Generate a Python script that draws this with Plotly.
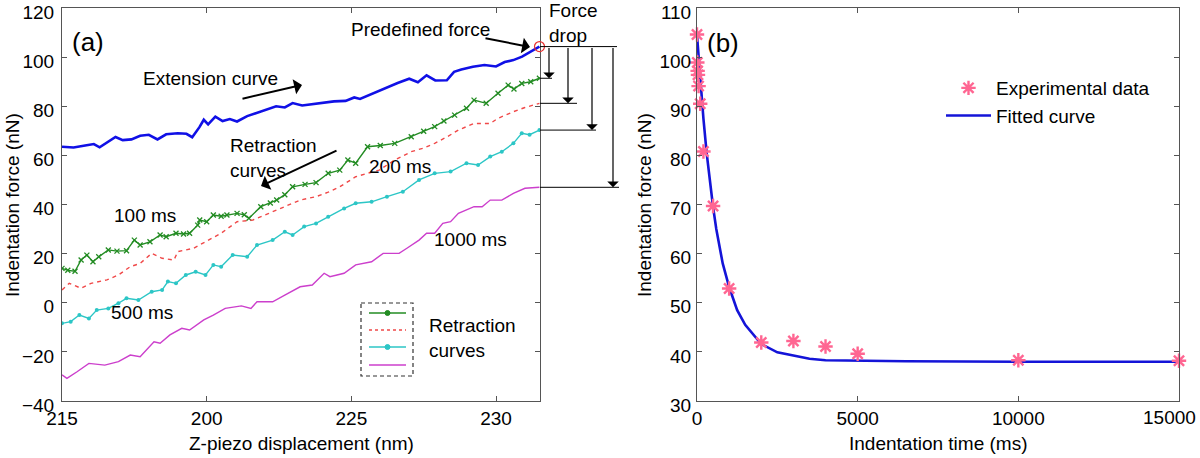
import plotly.graph_objects as go

# ---------------- data: panel (a) ----------------
ext_x = [215.0, 215.4, 215.8, 216.1, 216.3, 216.6, 216.85, 217.1, 217.4, 217.7, 218.0, 218.3, 218.6, 219.0,
         219.3, 219.5, 219.75, 219.9, 220.05, 220.3, 220.55, 220.8, 221.05, 221.4, 221.8, 222.2, 222.4, 222.7,
         222.97, 223.3, 223.6, 224.0, 224.4, 224.8, 225.1, 225.3, 225.6, 225.97, 226.3, 226.6, 227.0, 227.3,
         227.6, 227.9, 228.3, 228.55, 228.8, 229.2, 229.6, 230.0, 230.3, 230.6, 230.9, 231.2, 231.5]
ext_y = [63.5, 63.2, 64.0, 64.6, 63.3, 65.5, 67.5, 66.2, 66.5, 68.0, 68.4, 66.5, 68.6, 69.0,
         68.8, 67.4, 71.5, 74.5, 72.6, 75.8, 74.0, 74.8, 73.8, 76.0, 77.5, 79.0, 80.0, 79.5,
         81.3, 80.3, 80.8, 81.6, 82.0, 82.2, 83.6, 83.0, 84.5, 86.6, 88.0, 89.5, 91.2, 89.8,
         92.6, 90.5, 90.6, 94.0, 95.0, 96.1, 96.8, 96.2, 98.0, 98.8, 100.2, 102.2, 104.3]

r100_x = [215.0, 215.2, 215.45, 215.66, 215.86, 216.07, 216.27, 216.6, 216.9, 217.23, 217.5, 217.7, 218.04,
          218.39, 218.6, 218.94, 219.2, 219.41, 219.69, 219.76, 220.0, 220.23, 220.5, 220.7, 221.05, 221.3,
          221.46, 221.87, 222.2, 222.42, 222.7, 222.97, 223.4, 223.78, 224.2, 224.6, 224.88, 225.15, 225.56,
          226.0, 226.5, 227.07, 227.5, 227.88, 228.2, 228.57, 228.98, 229.24, 229.66, 230.07, 230.42, 230.62,
          230.89, 231.2, 231.5]
r100_y = [14.0, 13.2, 12.8, 17.4, 19.4, 16.7, 18.7, 21.5, 21.0, 21.2, 25.5, 23.5, 24.8,
          27.6, 26.9, 28.3, 28.0, 28.3, 31.6, 33.7, 33.0, 35.7, 35.2, 35.7, 36.4, 35.8,
          34.4, 39.1, 40.6, 41.8, 44.0, 47.2, 48.2, 48.9, 52.7, 54.0, 58.1, 56.8, 63.5,
          64.0, 64.9, 67.6, 69.8, 71.7, 74.0, 76.4, 79.2, 82.5, 81.2, 85.3, 88.6, 87.0,
          89.3, 90.0, 91.4]

r200_x = [215.0, 215.25, 215.66, 216.0, 216.55, 216.95, 217.36, 217.7, 218.1, 218.46, 218.87, 219.0, 219.55,
          219.96, 220.5, 221.05, 221.6, 222.15, 222.7, 223.23, 223.78, 224.2, 224.6, 225.15, 225.5, 225.96,
          226.5, 227.07, 227.5, 227.88, 228.3, 228.7, 229.24, 229.8, 230.07, 230.6, 231.0, 231.5]
r200_y = [5.2, 7.9, 5.9, 7.9, 9.3, 11.3, 14.7, 16.0, 20.1, 18.1, 17.4, 20.8, 22.2,
          24.8, 28.3, 33.0, 33.7, 36.4, 39.1, 41.8, 43.2, 45.0, 47.2, 51.3, 52.5, 54.0,
          58.1, 61.5, 63.0, 64.9, 67.5, 70.3, 73.0, 73.0, 75.1, 77.8, 79.5, 81.2]

r500_x = [215.0, 215.3, 215.6, 215.93, 216.2, 216.6, 216.95, 217.23, 217.64, 218.1, 218.46, 218.66, 218.94,
          219.28, 219.62, 219.96, 220.23, 220.5, 220.9, 221.4, 221.74, 222.28, 222.7, 222.97, 223.37, 223.78,
          224.2, 224.75, 225.15, 225.7, 226.23, 226.78, 227.34, 227.88, 228.43, 228.98, 229.38, 229.8, 230.2,
          230.6, 230.89, 231.16, 231.5]
r500_y = [-8.4, -7.7, -5.0, -6.4, -3.0, -2.3, -0.2, 1.8, 1.1, 4.5, 5.2, 8.6, 7.9,
          11.3, 12.6, 11.3, 15.4, 14.7, 19.4, 18.7, 23.5, 25.5, 28.9, 27.6, 31.0, 32.3,
          35.0, 38.4, 40.5, 41.1, 43.2, 45.2, 50.0, 52.7, 53.4, 56.8, 56.1, 59.5, 61.5,
          64.9, 69.0, 68.4, 70.3]

r1000_x = [215.0, 215.17, 215.52, 215.93, 216.48, 216.95, 217.36, 217.7, 218.18, 218.39, 218.73, 219.14,
           219.41, 219.9, 220.23, 220.64, 221.2, 221.53, 221.74, 222.28, 222.7, 223.23, 223.65, 224.06, 224.26,
           224.75, 225.15, 225.7, 226.1, 226.65, 226.92, 227.34, 227.6, 227.88, 228.16, 228.43, 228.7, 228.98,
           229.24, 229.52, 229.8, 230.2, 230.6, 231.0, 231.5]
r1000_y = [-29.4, -30.8, -28.1, -24.7, -25.4, -24.0, -21.3, -22.0, -15.9, -16.5, -13.1, -10.4,
           -11.1, -7.0, -5.0, -2.3, -1.3, -2.3, 0.4, 0.4, 3.1, 6.5, 7.2, 12.0, 10.6,
           12.0, 15.4, 16.7, 20.1, 20.1, 22.2, 25.5, 28.3, 28.3, 32.3, 33.0, 36.4, 37.8,
           39.1, 39.1, 41.8, 41.8, 44.5, 46.6, 47.0]

a_xticks = [215, 220, 225, 230]
a_xticktext = ["215", "200", "225", "230"]
a_yticks = [-40, -20, 0, 20, 40, 60, 80, 100, 120]

# ---------------- data: panel (b) ----------------
exp_t = [0, 10, 20, 30, 50, 100, 200, 500, 1000, 2000, 3000, 4000, 5000, 10000, 15000]
exp_f = [104.6, 98.9, 97.2, 96.4, 94.1, 90.5, 80.8, 69.7, 52.9, 41.9, 42.2, 41.1, 39.6, 38.3, 38.2]

fit_t = [0, 100, 200, 300, 400, 500, 600, 800, 1000, 1250, 1500, 2000, 2500, 3000, 3500, 4000, 6500,
         10000, 15000]
fit_f = [104.5, 95.5, 87.5, 80.5, 74.5, 69.5, 65.0, 58.0, 53.2, 48.5, 45.5, 41.6, 39.9, 39.2, 38.6, 38.3, 38.1,
         38.0, 38.0]

b_xticks = [0, 5000, 10000, 15000]
b_xticktext = ["0", "5000", "10000", "15000"]
b_yticks = [30, 40, 50, 60, 70, 80, 90, 100, 110]

FONT = "Liberation Sans, Arial, sans-serif"
AXC = "#555555"

# layout geometry helpers (pixel -> paper)
W, H = 1200, 458
TOP, BOT = 8, 401


def px(x):
    return x / W


def py(y):
    return (BOT - y) / (BOT - TOP)


fig = go.Figure()

# panel (a) curves
fig.add_trace(go.Scatter(x=ext_x, y=ext_y, mode="lines", line=dict(color="#1010e6", width=2.6),
                         showlegend=False, xaxis="x", yaxis="y"))
fig.add_trace(go.Scatter(x=r100_x, y=r100_y, mode="lines+markers", line=dict(color="#238c23", width=1.4),
                         marker=dict(symbol="x-thin-open", size=5, line=dict(color="#238c23", width=1.3)),
                         showlegend=False, xaxis="x", yaxis="y"))
fig.add_trace(go.Scatter(x=r200_x, y=r200_y, mode="lines", line=dict(color="#f04848", width=1.4, dash="4px,4px"),
                         showlegend=False, xaxis="x", yaxis="y"))
fig.add_trace(go.Scatter(x=r500_x, y=r500_y, mode="lines+markers", line=dict(color="#2cc6c6", width=1.4),
                         marker=dict(symbol="circle", size=4, color="#2cc6c6"),
                         showlegend=False, xaxis="x", yaxis="y"))
fig.add_trace(go.Scatter(x=r1000_x, y=r1000_y, mode="lines", line=dict(color="#cc3fcc", width=1.4),
                         showlegend=False, xaxis="x", yaxis="y"))

# panel (b)
fig.add_trace(go.Scatter(x=fit_t, y=fit_f, mode="lines", line=dict(color="#1414d8", width=2.6),
                         name="Fitted curve", xaxis="x2", yaxis="y2"))
fig.add_trace(go.Scatter(x=exp_t, y=exp_f, mode="markers", cliponaxis=False,
                         marker=dict(symbol="asterisk-open", size=12, line=dict(color="#ff0000", width=2.4)),
                         name="Experimental data", xaxis="x2", yaxis="y2"))

axis_common = dict(showline=True, linecolor=AXC, linewidth=1, mirror="ticks", ticks="inside", ticklen=5,
                   tickcolor=AXC, showgrid=False, zeroline=False, automargin=False,
                   ticklabeloverflow="allow",
                   tickfont=dict(family=FONT, size=19, color="black"))

fig.update_layout(
    width=W, height=H,
    margin=dict(l=0, r=0, t=TOP, b=H - BOT, autoexpand=False),
    paper_bgcolor="white", plot_bgcolor="white",
    font=dict(family=FONT, color="black"),
    xaxis=dict(domain=[px(62), px(540)], range=[215, 231.52], tickvals=a_xticks, ticktext=a_xticktext,
               anchor="y", **axis_common),
    yaxis=dict(domain=[0, 1], range=[-40.01, 120.01], tickvals=a_yticks, anchor="x", ticklabelstandoff=3,
               ticklabelshift=4, **axis_common),
    # last x2 tick label is drawn as an annotation so it can sit inside the page like the original
    xaxis2=dict(domain=[px(697), px(1179)], range=[0, 15000.01], tickvals=b_xticks,
                ticktext=b_xticktext[:-1] + [""], anchor="y2", **axis_common),
    yaxis2=dict(domain=[0, 1], range=[29.995, 110.005], tickvals=b_yticks, anchor="x2", ticklabelstandoff=1,
                ticklabelshift=4, **axis_common),
    legend=dict(x=px(941), y=py(69), xanchor="left", yanchor="top", bgcolor="rgba(0,0,0,0)",
                font=dict(family=FONT, size=19, color="black"), traceorder="reversed", itemwidth=45),
)

ann = []
shapes = []


def text(x, y, t, size=19, xanchor="center", align="center"):
    ann.append(dict(x=px(x), y=py(y), xref="paper", yref="paper", text=t, showarrow=False,
                    xanchor=xanchor, yanchor="middle", align=align,
                    font=dict(family=FONT, size=size, color="black")))


def arrow(x0, y0, x1, y1):
    # tail at (x0, y0), head at (x1, y1), pixel coordinates of the page
    ann.append(dict(x=px(x1), y=py(y1), xref="paper", yref="paper",
                    ax=x0 - x1, ay=y0 - y1, axref="pixel", ayref="pixel",
                    text="", showarrow=True, arrowhead=1, arrowsize=1.3,
                    arrowwidth=2, arrowcolor="black", standoff=0))


# last tick label of panel (b)
text(1198, 418, b_xticktext[-1], 19, xanchor="right")

# axis titles
text(301, 444, "Z-piezo displacement (nm)", 19)
text(938, 444, "Indentation time (ms)", 19)
ann.append(dict(x=px(12), y=py(205), xref="paper", yref="paper", text="Indentation force (nN)",
                xanchor="center", yanchor="middle",
                showarrow=False, textangle=-90, font=dict(family=FONT, size=19, color="black")))
ann.append(dict(x=px(644), y=py(205), xref="paper", yref="paper", text="Indentation force (nN)",
                xanchor="center", yanchor="middle",
                showarrow=False, textangle=-90, font=dict(family=FONT, size=19, color="black")))

# panel labels
text(88, 42, "(a)", 26)
text(723, 43, "(b)", 26)

# panel (a) annotations
text(420, 30, "Predefined force")
arrow(484, 38, 530, 47)
text(547, 23, "Force<br>drop", xanchor="left", align="left")
text(210, 78, "Extension curve")
arrow(241, 99, 302, 85)
text(228, 158, "Retraction<br>curves", xanchor="left", align="left")
arrow(338, 150, 261, 186)
text(400, 166, "200 ms")
text(145, 215, "100 ms")
text(142, 312, "500 ms")
text(470, 240, "1000 ms")

# red circle at predefined force (end of extension curve)
shapes.append(dict(type="circle", xref="paper", yref="y", xsizemode="pixel", ysizemode="pixel",
                   xanchor=px(539.5), yanchor=ext_y[-1], x0=-5, x1=5, y0=-5, y1=5,
                   line=dict(color="#e83030", width=1.2)))

# force-drop guide lines
top_val = ext_y[-1]
shapes.append(dict(type="line", xref="paper", yref="y", x0=px(540), x1=px(617), y0=top_val, y1=top_val,
                   line=dict(color="black", width=1)))
drops = [(r100_y[-1], 549, 552), (r200_y[-1], 568, 577), (r500_y[-1], 592, 596), (r1000_y[-1], 613, 619)]
for val, xa, xend in drops:
    shapes.append(dict(type="line", xref="paper", yref="y", x0=px(540), x1=px(xend), y0=val, y1=val,
                       line=dict(color="black", width=1)))
    ann.append(dict(x=px(xa), y=val, xref="paper", yref="y", ax=0, ay=top_val, axref="pixel",
                    ayref="y", text="", showarrow=True, arrowhead=1, arrowsize=1.6, arrowwidth=1.2,
                    arrowcolor="black", standoff=0))

# hand-drawn legend box in panel (a)
shapes.append(dict(type="rect", xref="paper", yref="paper", x0=px(361), x1=px(413), y0=py(303), y1=py(376),
                   line=dict(color="#333333", width=1.2, dash="4px,3px")))
leg_items = [("#238c23", 313, "solid", True), ("#f04848", 330, "3px,3px", False),
             ("#2cc6c6", 347, "solid", True), ("#cc3fcc", 365, "solid", False)]
for col, yy, dsh, dot in leg_items:
    shapes.append(dict(type="line", xref="paper", yref="paper", x0=px(369), x1=px(406), y0=py(yy), y1=py(yy),
                       line=dict(color=col, width=1.5, dash=dsh)))
    if dot:
        shapes.append(dict(type="circle", xref="paper", yref="paper", x0=px(385), x1=px(390),
                           y0=py(yy + 2.5), y1=py(yy - 2.5), fillcolor=col, line=dict(color=col, width=1)))
text(427, 338, "Retraction<br>curves", xanchor="left", align="left")

fig.update_layout(annotations=ann, shapes=shapes)
fig.write_html("out.html", config={"displayModeBar": False},
               post_script="document.body.style.margin='0';document.body.style.overflow='hidden';")
